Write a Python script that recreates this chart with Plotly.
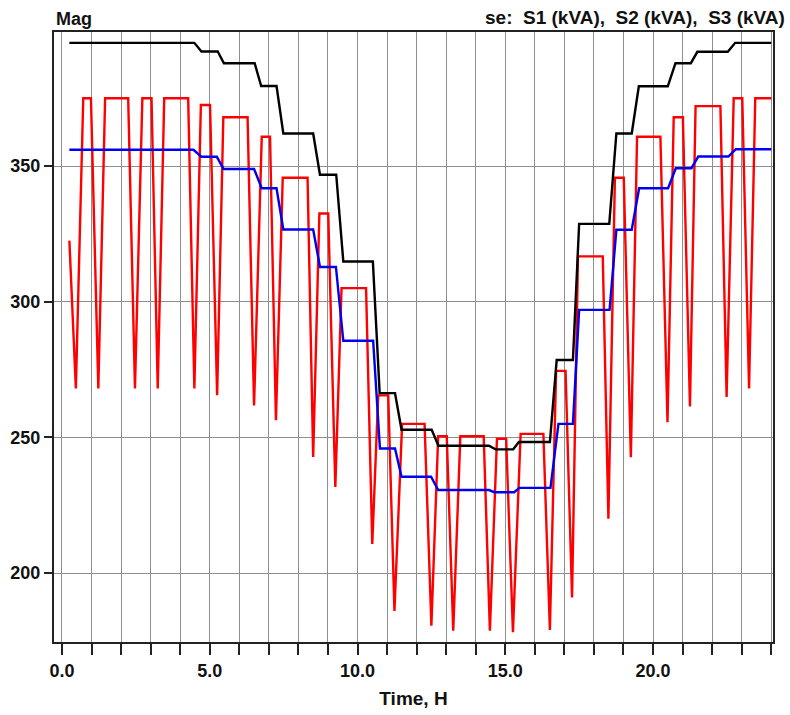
import plotly.graph_objects as go

# S1: stepped daily profile (kVA)
s1_t = [0.25, 4.48, 4.72, 5.27, 5.48, 6.52, 6.74, 7.26, 7.49, 8.50, 8.73, 9.28, 9.52,
        10.52, 10.75, 11.27, 11.49, 12.51, 12.74, 14.45, 14.67, 15.27, 15.46, 16.51,
        16.74, 17.29, 17.50, 18.52, 18.76, 19.28, 19.52, 20.50, 20.76, 21.28, 21.50,
        22.53, 22.78, 24.00]
s1_v = [395.4, 395.4, 392.2, 392.2, 387.9, 387.9, 379.5, 379.5, 362.0, 362.0, 346.8,
        346.8, 314.8, 314.8, 266.3, 266.3, 252.8, 252.8, 246.9, 246.9, 245.6, 245.6,
        248.3, 248.3, 278.5, 278.5, 328.7, 328.7, 362.0, 362.0, 379.4, 379.4, 387.9,
        387.9, 392.1, 392.1, 395.4, 395.4]

# S2: stepped daily profile (kVA)
s2_t = [0.25, 4.45, 4.72, 5.24, 5.47, 6.50, 6.76, 7.26, 7.49, 8.50, 8.73, 9.27, 9.52,
        10.53, 10.76, 11.27, 11.49, 12.49, 12.73, 14.45, 14.63, 15.30, 15.48, 16.53,
        16.80, 17.29, 17.50, 18.53, 18.76, 19.28, 19.53, 20.51, 20.77, 21.30, 21.53,
        22.55, 22.80, 24.00]
s2_v = [356.0, 356.0, 353.4, 353.4, 348.9, 348.9, 341.8, 341.8, 326.6, 326.6, 312.8,
        312.8, 285.6, 285.6, 245.9, 245.9, 235.5, 235.5, 230.6, 230.6, 229.8, 229.8,
        231.4, 231.4, 255.0, 255.0, 297.0, 297.0, 326.5, 326.5, 341.8, 341.8, 349.2,
        349.2, 353.5, 353.5, 356.2, 356.2]

# S3: switching load - plateaus separated by short dips
s3_first = (0.25, 322.5)
s3_dip_t = [0.47, 1.23, 2.47, 3.24, 4.48, 5.25, 6.50, 7.24, 8.50, 9.25, 10.50, 11.25,
            12.50, 13.24, 14.48, 15.26, 16.51, 17.26, 18.49, 19.25, 20.49, 21.25, 22.49, 23.25]
s3_dip_v = [268.0, 268.0, 268.0, 268.0, 268.0, 265.5, 261.8, 256.3, 242.8, 231.7, 210.7, 186.0,
            180.6, 178.8, 178.8, 178.2, 179.0, 191.0, 220.0, 242.7, 255.6, 261.4, 264.9, 268.0]
s3_top_start = [0.72, 1.46, 2.72, 3.46, 4.70, 5.46, 6.76, 7.47, 8.71, 9.46, 10.70, 11.51,
                12.73, 13.48, 14.72, 15.52, 16.72, 17.46, 18.71, 19.46, 20.70, 21.44, 22.73, 23.46]
s3_top_end = [0.98, 2.24, 3.03, 4.27, 5.01, 6.28, 7.04, 8.31, 9.01, 10.29, 11.04, 12.27,
              13.02, 14.27, 15.03, 16.29, 17.04, 18.30, 19.01, 20.25, 21.01, 22.28, 23.02, 24.00]
s3_top_v = [375.0, 375.0, 375.0, 375.0, 372.5, 368.0, 360.8, 345.7, 332.5, 305.0, 265.5, 255.0,
            250.4, 250.4, 249.5, 251.3, 274.5, 316.7, 345.7, 360.8, 368.0, 372.1, 375.0, 375.0]

x_tick_vals = list(range(0, 25))
x_tick_text = ["0.0", "", "", "", "", "5.0", "", "", "", "", "10.0", "", "", "", "",
               "15.0", "", "", "", "", "20.0", "", "", "", ""]
y_tick_vals = [200, 250, 300, 350]
y_tick_text = ["200", "250", "300", "350"]

# assemble the S3 path: dip, then plateau, repeated
s3_t = [s3_first[0]]
s3_v = [s3_first[1]]
for dt, dv, ts, te, tv in zip(s3_dip_t, s3_dip_v, s3_top_start, s3_top_end, s3_top_v):
    s3_t += [dt, ts, te]
    s3_v += [dv, tv, tv]

FONT = "Liberation Sans, Arial, sans-serif"

fig = go.Figure()
fig.add_trace(go.Scatter(x=s3_t, y=s3_v, mode="lines", name="S3 (kVA)",
                         line=dict(color="#ff0000", width=2.4)))
fig.add_trace(go.Scatter(x=s1_t, y=s1_v, mode="lines", name="S1 (kVA)",
                         line=dict(color="#000000", width=2.4)))
fig.add_trace(go.Scatter(x=s2_t, y=s2_v, mode="lines", name="S2 (kVA)",
                         line=dict(color="#0000ee", width=2.4)))

fig.update_layout(
    width=790, height=715,
    margin=dict(l=54, r=17, t=32, b=73),
    paper_bgcolor="white", plot_bgcolor="white",
    showlegend=False,
    font=dict(family=FONT, size=18, color="#111111"),
    xaxis=dict(
        range=[-0.27, 24.06], tickmode="array", tickvals=x_tick_vals, ticktext=x_tick_text,
        showgrid=True, gridcolor="#8e8e8e", gridwidth=1.4,
        showline=True, linecolor="#222222", linewidth=2, mirror=True,
        ticks="outside", ticklen=11, tickwidth=1.5, tickcolor="#222222",
        tickfont=dict(family=FONT, size=18, color="#111111", weight="bold"),
        title=dict(text="<b>Time, H</b>", font=dict(family=FONT, size=19, color="#111111"),
                   standoff=12),
        zeroline=False, automargin=False,
    ),
    yaxis=dict(
        range=[174.6, 399.4], tickmode="array", tickvals=y_tick_vals, ticktext=y_tick_text,
        showgrid=True, gridcolor="#8e8e8e", gridwidth=1.4,
        showline=True, linecolor="#222222", linewidth=2, mirror=True,
        ticks="outside", ticklen=8, tickwidth=1.5, tickcolor="#222222",
        tickfont=dict(family=FONT, size=18, color="#111111", weight="bold"),
        zeroline=False, automargin=False,
    ),
    annotations=[
        dict(text="<b>Mag</b>", xref="paper", yref="paper", x=0.0, y=1.021,
             xanchor="left", yanchor="middle", showarrow=False,
             font=dict(family=FONT, size=18, color="#111111")),
        dict(text="<b>se:  S1 (kVA),  S2 (kVA),  S3 (kVA)</b>", xref="paper", yref="paper",
             x=1.0195, y=1.023, xanchor="right", yanchor="middle", showarrow=False,
             font=dict(family=FONT, size=19, color="#111111")),
    ],
)

fig.write_html("out.html")
